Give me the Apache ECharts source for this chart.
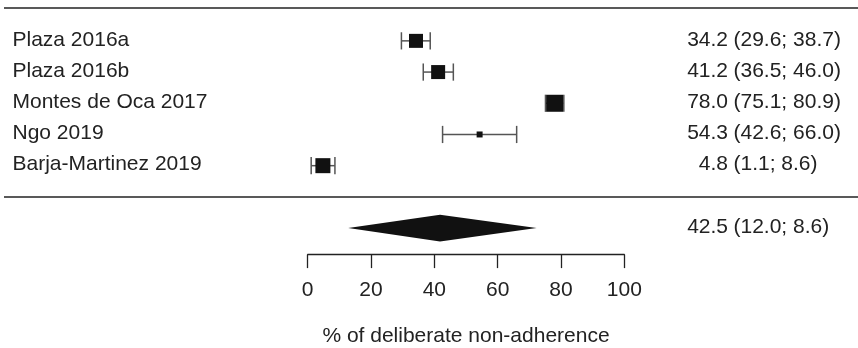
<!DOCTYPE html>
<html>
<head>
<meta charset="utf-8">
<script src="https://cdn.jsdelivr.net/npm/echarts@6/dist/echarts.min.js"></script>
<style>
html,body{margin:0;padding:0;background:#fff;}
#chart{width:858px;height:348px;}
</style>
</head>
<body>
<div id="chart"></div>
<script>
// ---- data ----
const studies = ['Plaza 2016a', 'Plaza 2016b', 'Montes de Oca 2017', 'Ngo 2019', 'Barja-Martinez 2019'];
const estimates = [34.2, 41.2, 78.0, 54.3, 4.8];
const lowerCI = [29.6, 36.5, 75.1, 42.6, 1.1];
const upperCI = [38.7, 46.0, 80.9, 66.0, 8.6];
const weights = [20.8, 20.8, 30.7, 3.8, 23.9];
const pooledDrawn = [12.8, 41.8, 72.3]; // lower, estimate, upper as drawn
const pooledLabel = ['42.5', '(12.0; 8.6)'];
const xTicks = [0, 20, 40, 60, 80, 100];
const xTitle = '% of deliberate non-adherence';

const FONT = '21px "Liberation Sans", Arial, sans-serif';
const TXT = '#222';
const POOLED_ROW = 6;
const SEP_ROW = 5;

const studyData = studies.map((s, i) => [lowerCI[i], estimates[i], upperCI[i], i, weights[i]]);

const chart = echarts.init(document.getElementById('chart'), null, {renderer: 'canvas'});
const option = {
  animation: false,
  grid: {left: 307.7, right: 233.7, top: 8.1, bottom: 93.4, containLabel: false, outerBoundsMode: 'none'},
  xAxis: {
    type: 'value', min: xTicks[0], max: xTicks[xTicks.length - 1], interval: 20,
    position: 'bottom',
    splitLine: {show: false},
    axisLine: {show: true, onZero: false, lineStyle: {color: '#222', width: 1.3}},
    axisTick: {show: true, inside: false, length: 13.5, lineStyle: {color: '#222', width: 1.3}},
    axisLabel: {margin: 25, fontSize: 21, color: TXT, fontFamily: '"Liberation Sans", Arial, sans-serif'},
    name: xTitle, nameLocation: 'middle', nameGap: 71,
    nameTextStyle: {fontSize: 21, color: TXT, fontFamily: '"Liberation Sans", Arial, sans-serif'}
  },
  yAxis: {
    type: 'value', inverse: true, min: -1.05, max: 6.85, show: false
  },
  series: [
    {
      // separator lines
      type: 'custom', silent: true,
      data: [[0, -1.05], [0, SEP_ROW]],
      renderItem(params, api) {
        const y = api.coord([0, api.value(1)])[1];
        return {type: 'line', shape: {x1: 4, y1: y, x2: api.getWidth(), y2: y},
          style: {stroke: '#222', lineWidth: 1.5}};
      }
    },
    {
      type: 'custom', silent: true,
      data: studyData,
      renderItem(params, api) {
        const lo = api.value(0), est = api.value(1), hi = api.value(2), row = api.value(3), w = api.value(4);
        const pL = api.coord([lo, row]), pE = api.coord([est, row]), pH = api.coord([hi, row]);
        const s = Math.sqrt(w) * 3.07;
        const capH = 8.6;
        const i = params.dataIndex;
        return {type: 'group', children: [
          {type: 'line', shape: {x1: pL[0], y1: pL[1], x2: pH[0], y2: pH[1]}, style: {stroke: '#555', lineWidth: 1.5}},
          {type: 'line', shape: {x1: pL[0], y1: pL[1] - capH, x2: pL[0], y2: pL[1] + capH}, style: {stroke: '#555', lineWidth: 1.5}},
          {type: 'line', shape: {x1: pH[0], y1: pH[1] - capH, x2: pH[0], y2: pH[1] + capH}, style: {stroke: '#555', lineWidth: 1.5}},
          {type: 'rect', shape: {x: pE[0] - s / 2, y: pE[1] - s / 2, width: s, height: s}, style: {fill: '#111'}},
          {type: 'text', x: 12.5, y: pE[1] - 1, style: {text: studies[i], font: FONT, fill: TXT, align: 'left', verticalAlign: 'middle'}},
          {type: 'text', x: 728, y: pE[1] - 1, style: {text: est.toFixed(1), font: FONT, fill: TXT, align: 'right', verticalAlign: 'middle'}},
          {type: 'text', x: 733.5, y: pE[1] - 1, style: {text: '(' + lo.toFixed(1) + '; ' + hi.toFixed(1) + ')', font: FONT, fill: TXT, align: 'left', verticalAlign: 'middle'}}
        ]};
      }
    },
    {
      type: 'custom', silent: true,
      data: [[pooledDrawn[0], pooledDrawn[1], pooledDrawn[2], POOLED_ROW]],
      renderItem(params, api) {
        const row = api.value(3);
        const pL = api.coord([api.value(0), row]), pE = api.coord([api.value(1), row]), pH = api.coord([api.value(2), row]);
        const hh = 13.3;
        return {type: 'group', children: [
          {type: 'polygon', shape: {points: [[pL[0], pL[1]], [pE[0], pE[1] - hh], [pH[0], pH[1]], [pE[0], pE[1] + hh]]}, style: {fill: '#111'}},
          {type: 'text', x: 728, y: pE[1] - 1, style: {text: pooledLabel[0], font: FONT, fill: TXT, align: 'right', verticalAlign: 'middle'}},
          {type: 'text', x: 733.5, y: pE[1] - 1, style: {text: pooledLabel[1], font: FONT, fill: TXT, align: 'left', verticalAlign: 'middle'}}
        ]};
      }
    }
  ]
};
chart.setOption(option);
</script>
</body>
</html>
